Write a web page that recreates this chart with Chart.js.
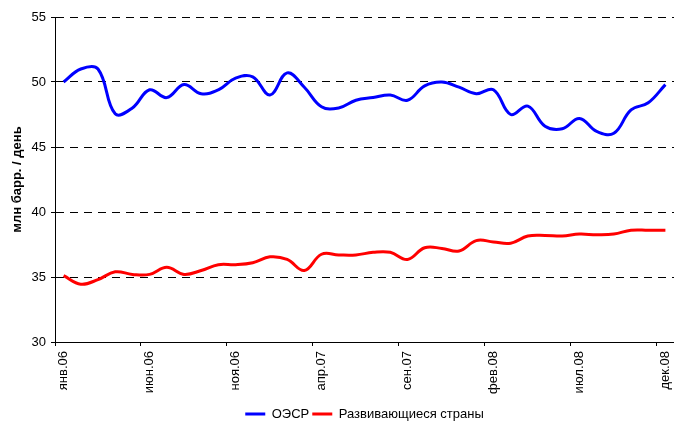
<!DOCTYPE html>
<html><head><meta charset="utf-8">
<script src="https://cdn.jsdelivr.net/npm/chart.js@4/dist/chart.umd.min.js"></script>
<style>html,body{margin:0;padding:0;background:#fff;} canvas{display:block;}</style>
</head><body>
<canvas id="c" width="674" height="421"></canvas>
<script>
const categories = [
  'янв.06','фев.06','мар.06','апр.06','май.06','июн.06','июл.06','авг.06','сен.06','окт.06','ноя.06','дек.06',
  'янв.07','фев.07','мар.07','апр.07','май.07','июн.07','июл.07','авг.07','сен.07','окт.07','ноя.07','дек.07',
  'янв.08','фев.08','мар.08','апр.08','май.08','июн.08','июл.08','авг.08','сен.08','окт.08','ноя.08','дек.08'
];
const oecd = [50.0, 51.0, 51.0, 47.55, 48.0, 49.4, 48.8, 49.8, 49.1, 49.4, 50.3, 50.4,
              49.0, 50.7, 49.6, 48.1, 48.0, 48.6, 48.8, 49.0, 48.6, 49.7, 50.0, 49.6,
              49.1, 49.4, 47.5, 48.15, 46.6, 46.4, 47.2, 46.2, 46.05, 47.85, 48.4, 49.8];
const developing = [35.1, 34.45, 34.8, 35.4, 35.2, 35.2, 35.75, 35.2, 35.5, 35.95, 35.95, 36.1,
                    36.55, 36.35, 35.5, 36.75, 36.7, 36.7, 36.9, 36.9, 36.35, 37.25, 37.2, 37.0,
                    37.8, 37.7, 37.6, 38.15, 38.2, 38.15, 38.3, 38.25, 38.3, 38.6, 38.6, 38.6];
const seriesNames = ['ОЭСР', 'Развивающиеся страны'];
const yTitle = 'млн барр. / день';
const yMin = 30, yMax = 55, yStep = 5;
const labelEvery = 5;

const FONT = "'Liberation Sans', Arial, sans-serif";

const legendShift = {
  id: 'legendShift',
  afterLayout(chart) {
    const lg = chart.legend, ca = chart.chartArea;
    if (!lg) return;
    lg.left = ca.left; lg.right = ca.right; lg.width = ca.right - ca.left;
    const h = lg.height;
    lg.top = 414 - 3 - 6.5; lg.bottom = lg.top + h;
  }
};

const tickCol = (ctx) => (ctx.index !== undefined && ctx.index % labelEvery === 0) ? '#000' : 'rgba(0,0,0,0)';

new Chart(document.getElementById('c'), {
  type: 'line',
  data: {
    labels: categories,
    datasets: [
      {label: seriesNames[0], data: oecd, borderColor: '#0000FF', backgroundColor: '#0000FF',
       borderWidth: 3, pointRadius: 0, tension: 0.4, fill: false},
      {label: seriesNames[1], data: developing, borderColor: '#FF0000', backgroundColor: '#FF0000',
       borderWidth: 3, pointRadius: 0, tension: 0.4, fill: false}
    ]
  },
  options: {
    responsive: false,
    animation: false,
    layout: {padding: {top: 17, right: 0, left: 0, bottom: 0}},
    plugins: {
      legend: {
        position: 'bottom',
        labels: {usePointStyle: true, pointStyle: 'line', pointStyleWidth: 20, boxWidth: 20,
                 padding: 3, color: '#000', font: {family: FONT, size: 13}}
      },
      tooltip: {enabled: false}
    },
    scales: {
      x: {
        type: 'category',
        offset: true,
        grid: {offset: true, drawOnChartArea: false, drawTicks: true, tickLength: 4,
               color: tickCol, tickColor: tickCol},
        border: {display: true, color: '#000', width: 1},
        ticks: {autoSkip: false, maxRotation: 90, minRotation: 90, padding: 5, color: '#000',
                font: {family: FONT, size: 13},
                callback: (v, i) => (i % labelEvery === 0 ? categories[i] : '')},
        afterFit: (s) => { s.height = 53; s.paddingLeft = 0; s.paddingRight = 0; }
      },
      y: {
        min: yMin, max: yMax,
        ticks: {stepSize: yStep, padding: 5, color: '#000', font: {family: FONT, size: 13}},
        grid: {color: '#000', lineWidth: 1, tickLength: 4, tickColor: '#000', tickBorderDash: [],
               borderDash: [8, 6]},
        border: {display: true, color: '#000', width: 1, dash: [8, 6]},
        title: {display: true, text: yTitle, color: '#000',
                font: {family: FONT, size: 13, weight: 'bold'}, padding: {top: 10, bottom: 0}},
        afterFit: (s) => { s.width = 55; }
      }
    }
  },
  plugins: [legendShift]
});
</script>
</body></html>
